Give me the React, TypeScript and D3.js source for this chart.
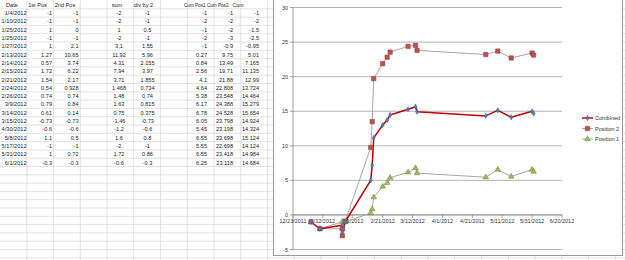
import React from 'react';
import * as d3 from 'd3';

// sheet data
const dates = ['1/4/2012', '1/10/2012', '1/25/2012', '1/25/2012', '1/27/2012', '2/13/2012', '2/14/2012', '2/15/2012', '2/21/2012', '2/24/2012', '2/26/2012', '3/9/2012', '3/14/2012', '3/15/2012', '4/30/2012', '5/8/2012', '5/17/2012', '5/31/2012', '6/1/2012'];
const pos1 = [-1, -1, 1, -1, 1, 1.27, 0.57, 1.72, 1.54, 0.54, 0.74, 0.79, 0.61, -0.73, -0.6, 1.1, -1, 1, -0.3];
const pos2 = [-1, -1, 0, -1, 2.1, 10.65, 3.74, 6.22, 2.17, 0.928, 0.74, 0.84, 0.14, -0.73, -0.6, 0.5, -1, 0.72, -0.3];
const sums = [-2, -2, 1, -2, 3.1, 11.92, 4.31, 7.94, 3.71, 1.468, 1.48, 1.63, 0.75, -1.46, -1.2, 1.6, -2, 1.72, -0.6];
const halves = [-1, -1, 0.5, -1, 1.55, 5.96, 2.155, 3.97, 1.855, 0.734, 0.74, 0.815, 0.375, -0.73, -0.6, 0.8, -1, 0.86, -0.3];
const cumPos1 = [-1, -2, -1, -2, -1, 0.27, 0.84, 2.56, 4.1, 4.64, 5.38, 6.17, 6.78, 6.05, 5.45, 6.55, 5.55, 6.55, 6.25];
const cumPos2 = [-1, -2, -2, -3, -0.9, 9.75, 13.49, 19.71, 21.88, 22.808, 23.548, 24.388, 24.528, 23.798, 23.198, 23.698, 22.698, 23.418, 23.118];
const cumBoth = [-1, -2, -1.5, -2.5, -0.95, 5.01, 7.165, 11.135, 12.99, 13.724, 14.464, 15.279, 15.654, 14.924, 14.324, 15.124, 14.124, 14.984, 14.684];

const W = 625;
const H = 260;
const FONT = 'Liberation Sans, Arial, sans-serif';
const rowH = 8.3;
const row0 = 8.8;
const colW = 26.75;

type Anchor = 'start' | 'end' | 'middle';
type Col = { head: string; headX: number; headAnchor: Anchor; headSize: number; values: (string | number)[]; x: number; anchor: Anchor };

const cols: Col[] = [
  { head: 'Date', headX: 12, headAnchor: 'middle', headSize: 5.6, values: dates, x: 26.5, anchor: 'end' },
  { head: '1st Pos', headX: 37.5, headAnchor: 'middle', headSize: 5.6, values: pos1, x: 52, anchor: 'end' },
  { head: '2nd Pos', headX: 65, headAnchor: 'middle', headSize: 5.6, values: pos2, x: 78.5, anchor: 'end' },
  { head: 'sum', headX: 117, headAnchor: 'middle', headSize: 5.6, values: sums, x: 119, anchor: 'middle' },
  { head: 'div by 2', headX: 143.5, headAnchor: 'middle', headSize: 5.6, values: halves, x: 147.5, anchor: 'middle' },
  { head: 'Cum Pos1', headX: 205.5, headAnchor: 'end', headSize: 4.6, values: cumPos1, x: 207, anchor: 'end' },
  { head: 'Cum Pos2', headX: 207, headAnchor: 'start', headSize: 4.6, values: cumPos2, x: 233, anchor: 'end' },
  { head: 'Cum', headX: 238, headAnchor: 'middle', headSize: 5.2, values: cumBoth, x: 259, anchor: 'end' },
];

const parse = d3.utcParse('%m/%d/%Y');
const when = dates.map(d => parse(d) as Date);

const x = d3.scaleUtc()
  .domain([new Date(Date.UTC(2011, 11, 23)), new Date(Date.UTC(2012, 5, 20))])
  .range([293, 562]);
const y = d3.scaleLinear().domain([-5, 30]).range([249.5, 7.5]);

const xTicks = d3.utcDay.range(x.domain()[0], d3.utcDay.offset(x.domain()[1], 1), 20);
const fmtDate = d3.utcFormat('%-m/%-d/%Y');
const yTicks = y.ticks(7);

const series = [
  { name: 'Combined', values: cumBoth, stroke: '#c00000', width: 1.5, shape: d3.symbolDiamond, size: 8, fill: '#4f81bd', edge: '#385d8a' },
  { name: 'Position 2', values: cumPos2, stroke: '#a6a6a6', width: 1, shape: d3.symbolSquare, size: 19, fill: '#c0504d', edge: '#8c3836' },
  { name: 'Position 1', values: cumPos1, stroke: '#a6a6a6', width: 1, shape: d3.symbolTriangle, size: 14, fill: '#9bbb59', edge: '#71893f' },
];

const line = d3.line<number>().x((_, i) => x(when[i])).y(v => y(v));

export default function App() {
  const hLines = d3.range(0, 32).map(k => row0 + k * rowH).filter(v => v < H);
  const vLines = d3.range(1, 24).map(k => k * colW).filter(v => v < W);
  return (
    <svg width={W} height={H} style={{ position: 'absolute', left: 0, top: 0, background: '#fff' }}>
      {/* worksheet grid */}
      {hLines.map((v, i) => (
        <line key={'h' + i} x1={0} x2={W} y1={v} y2={v} stroke="#dadcdd" strokeWidth={0.8} />
      ))}
      {vLines.map((v, i) => (
        <line key={'v' + i} x1={v} x2={v} y1={0} y2={H} stroke="#dadcdd" strokeWidth={0.8} />
      ))}
      <g fontFamily={FONT} fontSize={5.6} fill="#222">
        {cols.map(c => (
          <g key={c.head}>
            <text x={c.headX} y={row0 - 2} textAnchor={c.headAnchor} fontSize={c.headSize}>{c.head}</text>
            {c.values.map((v, i) => (
              <text key={i} x={c.x} y={row0 + (i + 1) * rowH - 2} textAnchor={c.anchor}>{String(v)}</text>
            ))}
          </g>
        ))}
      </g>

      {/* chart object */}
      <rect x={273.5} y={-5} width={349} height={260.5} fill="#fff" stroke="#9a9a9a" strokeWidth={1} />
      {yTicks.map(t => (
        <line key={'g' + t} x1={293} x2={562} y1={y(t)} y2={y(t)} stroke="#a0a0a0" strokeWidth={0.8} />
      ))}
      <line x1={293} x2={293} y1={y(30)} y2={y(-5)} stroke="#868686" strokeWidth={0.8} />
      <line x1={293} x2={562} y1={y(0)} y2={y(0)} stroke="#868686" strokeWidth={0.8} />
      {yTicks.map(t => (
        <line key={'yt' + t} x1={290} x2={293} y1={y(t)} y2={y(t)} stroke="#868686" strokeWidth={0.8} />
      ))}
      {xTicks.map((t, i) => (
        <line key={'xt' + i} x1={x(t)} x2={x(t)} y1={y(0)} y2={y(0) + 3} stroke="#868686" strokeWidth={0.8} />
      ))}
      <g fontFamily={FONT} fontSize={5.5} fill="#333">
        {yTicks.map(t => (
          <text key={'yl' + t} x={288} y={y(t) + 2} textAnchor="end">{t}</text>
        ))}
        {xTicks.map((t, i) => (
          <text key={'xl' + i} x={x(t)} y={y(0) + 8.5} textAnchor="middle">{fmtDate(t)}</text>
        ))}
      </g>

      {[...series].reverse().map(s => (
        <path key={'l' + s.name} d={line(s.values) || ''} fill="none" stroke={s.stroke} strokeWidth={s.width} strokeLinejoin="round" />
      ))}
      {[...series].reverse().map(s => (
        <g key={'m' + s.name}>
          {s.values.map((v, i) => (
            <path key={i} transform={`translate(${x(when[i])},${y(v)})`} d={d3.symbol().type(s.shape).size(s.size)() || ''}
              fill={s.fill} stroke={s.edge} strokeWidth={0.5} />
          ))}
        </g>
      ))}

      {/* legend */}
      <g fontFamily={FONT} fontSize={5.5} fill="#333">
        {series.map((s, i) => {
          const ly = 118 + i * 10.5;
          return (
            <g key={'lg' + s.name}>
              <line x1={582} x2={593} y1={ly} y2={ly} stroke={s.stroke} strokeWidth={s.width} />
              <path transform={`translate(587.5,${ly})`} d={d3.symbol().type(s.shape).size(s.size)() || ''}
                fill={s.fill} stroke={s.edge} strokeWidth={0.5} />
              <text x={595} y={ly + 2}>{s.name}</text>
            </g>
          );
        })}
      </g>
    </svg>
  );
}
